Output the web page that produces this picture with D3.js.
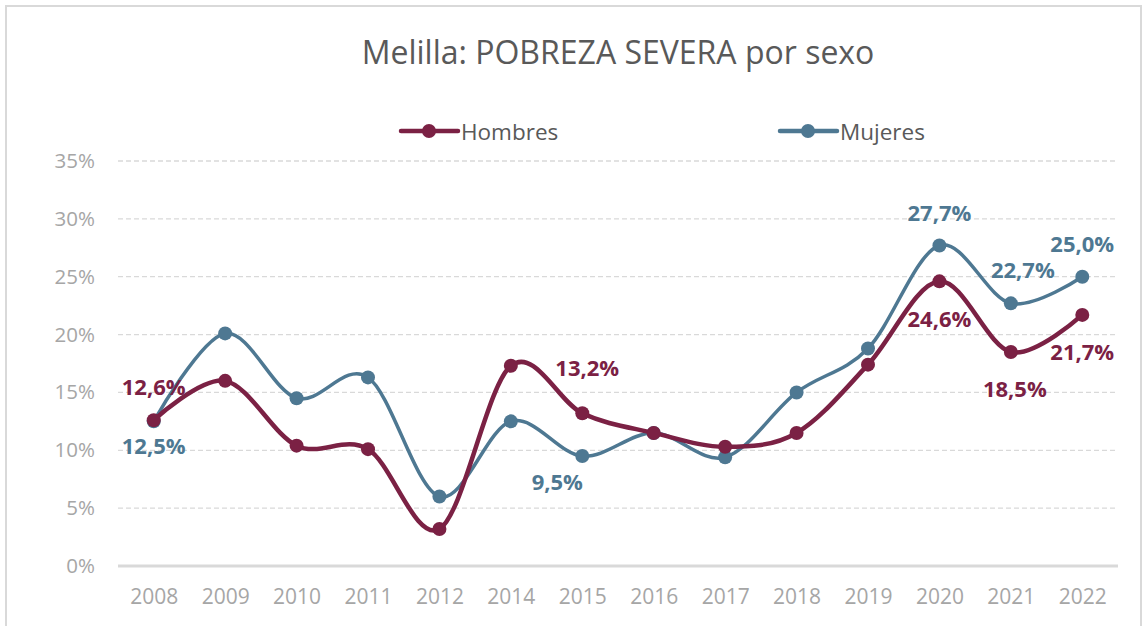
<!DOCTYPE html>
<html>
<head>
<meta charset="utf-8">
<script src="https://cdn.jsdelivr.net/npm/d3@7"></script>
<style>
  body { margin: 0; background: #fff; }
  text { font-family: "Open Sans", "Noto Sans", sans-serif; }
</style>
</head>
<body>
<div id="chart"></div>
<script>
// data
var years = ["2008", "2009", "2010", "2011", "2012", "2014", "2015", "2016", "2017", "2018", "2019", "2020", "2021", "2022"];
var hombres = [12.6, 16.0, 10.4, 10.1, 3.2, 17.3, 13.2, 11.5, 10.3, 11.5, 17.4, 24.6, 18.5, 21.7];
var mujeres = [12.5, 20.1, 14.5, 16.3, 6.0, 12.5, 9.5, 11.5, 9.4, 15.0, 18.8, 27.7, 22.7, 25.0];
var yTicks = [0, 5, 10, 15, 20, 25, 30, 35];

// which points carry a value label, and where it sits
var labelsHombres = [
  { year: "2008", dx: 0, dy: -34 },
  { year: "2015", dx: 5, dy: -46 },
  { year: "2020", dx: 0, dy: 37 },
  { year: "2021", dx: 4, dy: 36 },
  { year: "2022", dx: 0, dy: 36 }
];
var labelsMujeres = [
  { year: "2008", dx: 0, dy: 24 },
  { year: "2015", dx: -25, dy: 25 },
  { year: "2020", dx: 0, dy: -33 },
  { year: "2021", dx: 12, dy: -34 },
  { year: "2022", dx: 0, dy: -34 }
];

var svgWidth = 1143;
var svgHeight = 626;
var margin = { top: 161, right: 25, bottom: 60, left: 118 };
var width = 1118 - margin.left;
var height = 566 - margin.top;

var colorH = "#7b2144";
var colorM = "#4e7892";

var svg = d3.select("#chart")
  .append("svg")
  .attr("width", svgWidth)
  .attr("height", svgHeight);

// outer frame
svg.append("rect")
  .attr("x", 6)
  .attr("y", 6)
  .attr("width", 1135)
  .attr("height", 640)
  .attr("fill", "none")
  .attr("stroke", "#d9d9d9")
  .attr("stroke-width", 2);

var chartGroup = svg.append("g")
  .attr("transform", `translate(${margin.left}, ${margin.top})`);

var x = d3.scalePoint()
  .domain(years)
  .range([0, width])
  .padding(0.5);

var y = d3.scaleLinear()
  .domain([0, 35])
  .range([height, 0]);

// gridlines
chartGroup.selectAll(".grid")
  .data(yTicks.filter(d => d > 0))
  .enter()
  .append("line")
  .attr("x1", 0)
  .attr("x2", width)
  .attr("y1", d => y(d))
  .attr("y2", d => y(d))
  .attr("stroke", "#d9d9d9")
  .attr("stroke-width", 1.3)
  .attr("stroke-dasharray", "5,3");

// baseline
chartGroup.append("line")
  .attr("x1", 0)
  .attr("x2", width)
  .attr("y1", y(0))
  .attr("y2", y(0))
  .attr("stroke", "#d9d9d9")
  .attr("stroke-width", 3);

// y axis
var leftAxis = d3.axisLeft(y)
  .tickValues(yTicks)
  .tickSize(0)
  .tickPadding(23)
  .tickFormat(d => d + "%");

var yAxis = chartGroup.append("g").call(leftAxis);
yAxis.select(".domain").remove();
yAxis.selectAll("text")
  .attr("fill", "#a6a6a6")
  .style("font-size", "20.5px");

// x axis
var bottomAxis = d3.axisBottom(x)
  .tickSize(0)
  .tickPadding(23);

var xAxis = chartGroup.append("g")
  .attr("transform", `translate(0, ${height})`)
  .call(bottomAxis);
xAxis.select(".domain").remove();
xAxis.selectAll("text")
  .attr("fill", "#a6a6a6")
  .style("font-size", "21px");

var line = d3.line()
  .x((d, i) => x(years[i]))
  .y(d => y(d))
  .curve(d3.curveCardinal.tension(0));

function drawSeries(values, color, lineWidth) {
  chartGroup.append("path")
    .datum(values)
    .attr("fill", "none")
    .attr("stroke", color)
    .attr("stroke-width", lineWidth)
    .attr("stroke-linejoin", "round")
    .attr("d", line);

  chartGroup.selectAll(null)
    .data(values)
    .enter()
    .append("circle")
    .attr("cx", (d, i) => x(years[i]))
    .attr("cy", d => y(d))
    .attr("r", 7)
    .attr("fill", color);
}

drawSeries(mujeres, colorM, 3.5);
drawSeries(hombres, colorH, 4.5);

function drawLabels(values, labels, color) {
  chartGroup.selectAll(null)
    .data(labels)
    .enter()
    .append("text")
    .attr("x", d => x(d.year) + d.dx)
    .attr("y", d => y(values[years.indexOf(d.year)]) + d.dy)
    .attr("text-anchor", "middle")
    .attr("dominant-baseline", "central")
    .attr("fill", color)
    .style("font-size", "22px")
    .style("font-weight", "bold")
    .text(d => values[years.indexOf(d.year)].toFixed(1).replace(".", ",") + "%");
}

drawLabels(hombres, labelsHombres, colorH);
drawLabels(mujeres, labelsMujeres, colorM);

// title
svg.append("text")
  .attr("x", 618)
  .attr("y", 51)
  .attr("text-anchor", "middle")
  .attr("dominant-baseline", "central")
  .attr("fill", "#595959")
  .style("font-size", "32px")
  .text("Melilla: POBREZA SEVERA por sexo");

// legend
var legendItems = [
  { name: "Hombres", color: colorH, x: 401 },
  { name: "Mujeres", color: colorM, x: 780 }
];

var legend = svg.selectAll(".legend")
  .data(legendItems)
  .enter()
  .append("g")
  .attr("transform", d => `translate(${d.x}, 131)`);

legend.append("line")
  .attr("x1", 0)
  .attr("x2", 57)
  .attr("stroke", d => d.color)
  .attr("stroke-width", 4.5)
  .attr("stroke-linecap", "round");

legend.append("circle")
  .attr("cx", 28)
  .attr("r", 7)
  .attr("fill", d => d.color);

legend.append("text")
  .attr("x", 60)
  .attr("dominant-baseline", "central")
  .attr("fill", "#595959")
  .style("font-size", "22.5px")
  .text(d => d.name);
</script>
</body>
</html>
